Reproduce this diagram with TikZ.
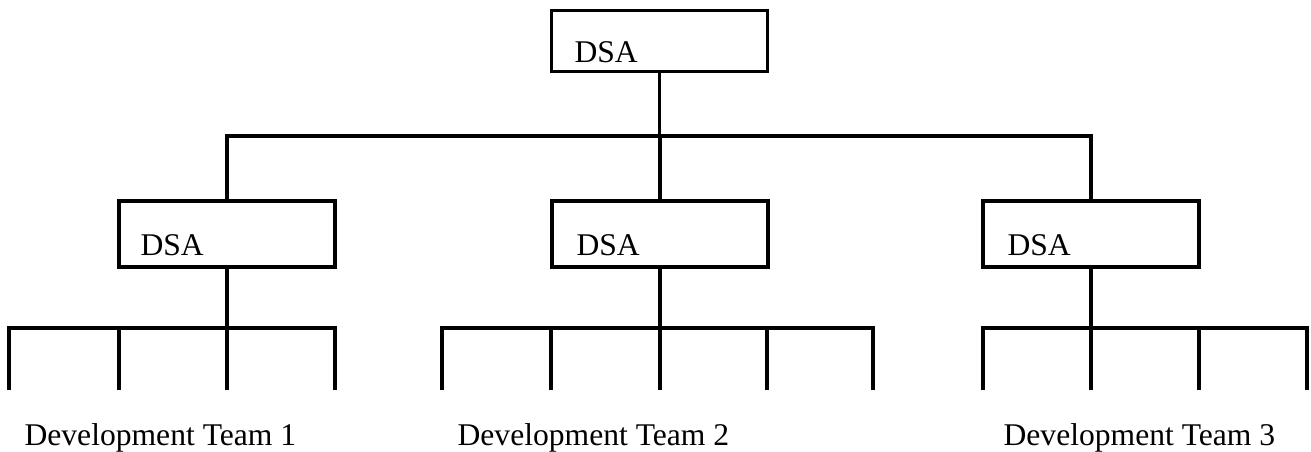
\documentclass[tikz,border=0pt]{standalone}
\usepackage{fontspec}
\setmainfont{Liberation Serif}
\begin{document}
\begin{tikzpicture}[x=1pt,y=-1pt,line width=3.2pt,
  box/.style={draw, rectangle, minimum width=216pt, minimum height=66pt, inner sep=0pt},
  topbox/.style={box, minimum height=61pt},
  lbl/.style={anchor=base west, inner sep=0pt, font=\fontsize{31.6}{38}\selectfont}]
\useasboundingbox (0,0) rectangle (1311,452);
% boxes
\node[topbox] (top) at (659.5,41) {};
\node[box] (m1) at (227,234) {};
\node[box] (m2) at (660,234) {};
\node[box] (m3) at (1091,234) {};
% box texts
\node[lbl] (ttop) at (573,63) {DSA};
\node[lbl] (tm1) at (139,255) {DSA};
\node[lbl] (tm2) at (575,255) {DSA};
\node[lbl] (tm3) at (1006,255) {DSA};
% levels
\coordinate (h1) at (0,136);
\coordinate (h2) at (0,328);
% tick ends
\coordinate (a1) at (9,390);
\coordinate (a2) at (119,390);
\coordinate (a3) at (227,390);
\coordinate (a4) at (335,390);
\coordinate (b1) at (442,390);
\coordinate (b2) at (551,390);
\coordinate (b3) at (660,390);
\coordinate (b4) at (767,390);
\coordinate (b5) at (873,390);
\coordinate (c1) at (983,390);
\coordinate (c2) at (1091,390);
\coordinate (c3) at (1199,390);
\coordinate (c4) at (1307,390);
% top level connectors
\draw (top.south) -- (top.south |- h1);
\draw (m1.north) -- (m1.north |- h1) -- (m3.north |- h1) -- (m3.north);
\draw (m2.north) -- (m2.north |- h1);
% team 1
\draw (m1.south) -- (m1.south |- h2);
\draw (a1) -- (a1 |- h2) -- (a4 |- h2) -- (a4);
\foreach \t in {a2,a3} \draw (\t |- h2) -- (\t);
% team 2
\draw (m2.south) -- (m2.south |- h2);
\draw (b1) -- (b1 |- h2) -- (b5 |- h2) -- (b5);
\foreach \t in {b2,b3,b4} \draw (\t |- h2) -- (\t);
% team 3
\draw (m3.south) -- (m3.south |- h2);
\draw (c1) -- (c1 |- h2) -- (c4 |- h2) -- (c4);
\foreach \t in {c2,c3} \draw (\t |- h2) -- (\t);
% labels
\node[lbl] (team1) at (23,445) {Development Team 1};
\node[lbl] (team2) at (456,445) {Development Team 2};
\node[lbl] (team3) at (1002,445) {Development Team 3};
\end{tikzpicture}
\end{document}
